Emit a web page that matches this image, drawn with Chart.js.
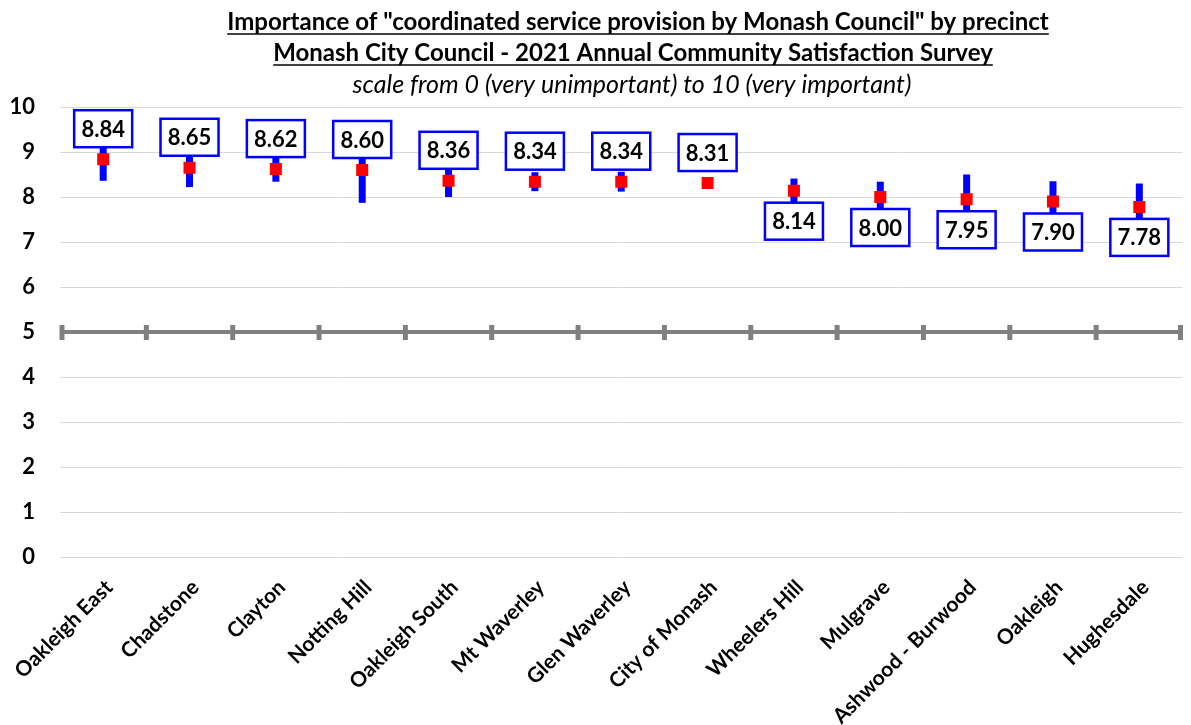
<!DOCTYPE html>
<html>
<head>
<meta charset="utf-8">
<script src="https://cdn.jsdelivr.net/npm/chart.js@4.4.1/dist/chart.umd.min.js"></script>
<style>
  html, body { margin: 0; padding: 0; background: #fff; }
  #wrap { width: 1191px; height: 725px; position: relative; }
</style>
</head>
<body>
<div id="wrap"><canvas id="chart"></canvas></div>
<script>
const precincts = ["Oakleigh East", "Chadstone", "Clayton", "Notting Hill", "Oakleigh South", "Mt Waverley",
  "Glen Waverley", "City of Monash", "Wheelers Hill", "Mulgrave", "Ashwood - Burwood", "Oakleigh", "Hughesdale"];
const means = [8.84, 8.65, 8.62, 8.60, 8.36, 8.34, 8.34, 8.31, 8.14, 8.00, 7.95, 7.90, 7.78];
const ciLower = [8.36, 8.22, 8.34, 7.87, 8.00, 8.13, 8.12, 8.25, 7.87, 7.66, 7.40, 7.45, 7.26];
const ciUpper = [9.32, 9.08, 8.90, 9.33, 8.72, 8.55, 8.56, 8.37, 8.41, 8.34, 8.50, 8.35, 8.30];
const yTicks = [0, 1, 2, 3, 4, 5, 6, 7, 8, 9, 10];
const titleLines = [
  'Importance of "coordinated service provision by Monash Council" by precinct',
  "Monash City Council - 2021 Annual Community Satisfaction Survey"
];
const subtitle = "scale from 0 (very unimportant) to 10 (very important)";

const FONT = "Lato, Carlito, Calibri, sans-serif";
const BLUE = "#0000ff";
const RED = "#ff0000";
const AXIS_GREY = "#808080";
const MID_VALUE = 5;
const LABELS_ABOVE = 8; // first 8 labels sit above the marker, the rest below

function drawTitles(chart) {
  const { ctx } = chart;
  const cx = 638;
  ctx.save();
  ctx.fillStyle = "#000";
  ctx.strokeStyle = "#000";
  ctx.textAlign = "center";
  ctx.textBaseline = "alphabetic";
  ctx.font = `bold 24px ${FONT}`;
  [30, 61].forEach((baseline, i) => {
    const text = titleLines[i];
    const x = i === 0 ? cx : 633;
    ctx.fillText(text, x, baseline);
    const w = ctx.measureText(text).width;
    ctx.lineWidth = 1.6;
    ctx.beginPath();
    ctx.moveTo(x - w / 2, baseline + 4);
    ctx.lineTo(x + w / 2, baseline + 4);
    ctx.stroke();
  });
  ctx.font = `italic 25px ${FONT}`;
  ctx.fillText(subtitle, 632, 93);
  ctx.restore();
}

const decorPlugin = {
  id: "precinctDecor",
  afterDraw(chart) {
    drawTitles(chart);
  },
  beforeDatasetsDraw(chart) {
    const { ctx, chartArea } = chart;
    const x = chart.scales.x;
    const y = chart.scales.y;
    ctx.save();
    // mid-scale axis line with category tick marks
    const y5 = y.getPixelForValue(MID_VALUE);
    ctx.strokeStyle = AXIS_GREY;
    ctx.lineWidth = 4;
    ctx.beginPath();
    ctx.moveTo(chartArea.left, y5);
    ctx.lineTo(chartArea.right, y5);
    ctx.stroke();
    const step = (chartArea.right - chartArea.left) / precincts.length;
    ctx.lineWidth = 5;
    for (let i = 0; i <= precincts.length; i++) {
      const tx = Math.min(Math.max(chartArea.left + i * step, chartArea.left + 2), chartArea.right - 2);
      ctx.beginPath();
      ctx.moveTo(tx, y5 - 7);
      ctx.lineTo(tx, y5 + 8);
      ctx.stroke();
    }
    // confidence interval bars
    ctx.strokeStyle = BLUE;
    ctx.lineWidth = 7;
    precincts.forEach((_, i) => {
      const px = x.getPixelForValue(i);
      ctx.beginPath();
      ctx.moveTo(px, y.getPixelForValue(ciUpper[i]));
      ctx.lineTo(px, y.getPixelForValue(ciLower[i]));
      ctx.stroke();
    });
    ctx.restore();
  },
  afterDatasetsDraw(chart) {
    const { ctx } = chart;
    const meta = chart.getDatasetMeta(0);
    const boxW = 58, boxH = 37, gap = 12;
    ctx.save();
    ctx.font = `bold 22px ${FONT}`;
    ctx.textAlign = "center";
    ctx.textBaseline = "middle";
    meta.data.forEach((pt, i) => {
      const top = i < LABELS_ABOVE ? pt.y - gap - boxH : pt.y + gap;
      const left = pt.x - boxW / 2;
      ctx.fillStyle = "#fff";
      ctx.fillRect(left, top, boxW, boxH);
      ctx.strokeStyle = BLUE;
      ctx.lineWidth = 2.5;
      ctx.strokeRect(left, top, boxW, boxH);
      ctx.fillStyle = "#000";
      ctx.fillText(means[i].toFixed(2), pt.x, top + boxH / 2 + 1);
    });
    ctx.restore();
  }
};

new Chart(document.getElementById("chart"), {
  type: "line",
  data: {
    labels: precincts,
    datasets: [{
      label: "Mean importance",
      data: means,
      showLine: false,
      pointStyle: "rect",
      pointRadius: 8.5,
      pointHoverRadius: 8.5,
      pointBorderWidth: 0,
      pointBackgroundColor: RED,
      borderColor: RED
    }]
  },
  options: {
    responsive: true,
    maintainAspectRatio: false,
    animation: false,
    events: [],
    layout: { padding: { top: 107, right: 4, left: 0, bottom: 0 } },
    plugins: {
      legend: { display: false },
      tooltip: { enabled: false }
    },
    scales: {
      x: {
        type: "category",
        offset: true,
        grid: { display: false },
        border: { display: false },
        ticks: {
          color: "#000",
          font: { family: FONT, size: 21, weight: "bold" },
          minRotation: 45,
          maxRotation: 45,
          autoSkip: false,
          padding: 10,
          labelOffset: 6
        },
        afterFit: (scale) => { scale.height = 168; }
      },
      y: {
        min: 0,
        max: 10,
        afterBuildTicks: (scale) => { scale.ticks = yTicks.map((v) => ({ value: v })); },
        grid: { color: "#d9d9d9", lineWidth: 1, drawTicks: false },
        border: { display: false },
        ticks: {
          color: "#000",
          font: { family: FONT, size: 22, weight: "bold" },
          padding: 25
        },
        afterFit: (scale) => { scale.width = 60; }
      }
    }
  },
  plugins: [decorPlugin]
});
</script>
</body>
</html>
